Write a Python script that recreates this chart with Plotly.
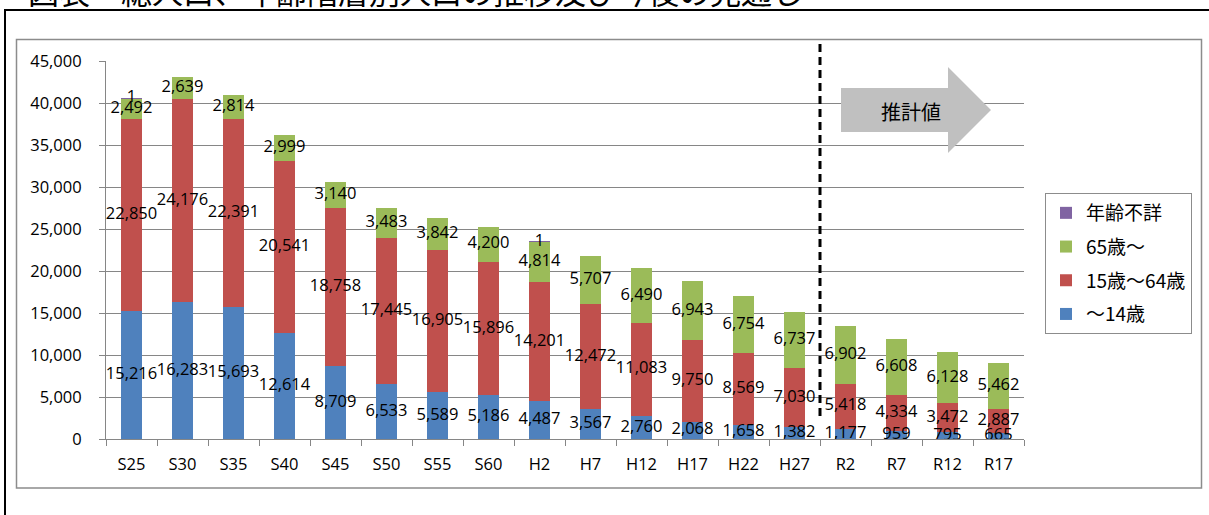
import numpy as np
import plotly.graph_objects as go

# 年次（昭和・平成・令和）
years = ["S25", "S30", "S35", "S40", "S45", "S50", "S55", "S60", "H2",
         "H7", "H12", "H17", "H22", "H27", "R2", "R7", "R12", "R17"]

# 年齢階層別人口（人）
age_0_14 = [15216, 16283, 15693, 12614, 8709, 6533, 5589, 5186, 4487,
            3567, 2760, 2068, 1658, 1382, 1177, 959, 795, 665]
age_15_64 = [22850, 24176, 22391, 20541, 18758, 17445, 16905, 15896, 14201,
             12472, 11083, 9750, 8569, 7030, 5418, 4334, 3472, 2887]
age_65_over = [2492, 2639, 2814, 2999, 3140, 3483, 3842, 4200, 4814,
               5707, 6490, 6943, 6754, 6737, 6902, 6608, 6128, 5462]
age_unknown = [1, 0, 0, 0, 0, 0, 0, 0, 1, 0, 0, 0, 0, 0, 0, 0, 0, 0]

# (name, values, colour, legend rank)
series = [
    ("～14歳", age_0_14, "#4F81BD", 4),
    ("15歳～64歳", age_15_64, "#C0504D", 3),
    ("65歳～", age_65_over, "#9BBB59", 2),
    ("年齢不詳", age_unknown, "#8064A2", 1),
]

W, H = 1209, 515
L, R, T, B = 106, 1024, 61, 439   # plot area in pixels

def px_x(x):
    return (x - L) / (R - L)

def px_y(y):
    return (B - y) / (B - T)

NUM_FONT = dict(family="Open Sans, Liberation Sans, sans-serif", size=16.5, color="#000000")
JP_FONT = "Noto Sans CJK JP, sans-serif"

fig = go.Figure()

base = np.zeros(len(years))
label_traces = []
for name, vals, color, rank in series:
    v = np.array(vals, dtype=float)
    fig.add_trace(go.Bar(
        x=years, y=v, name=name, marker=dict(color=color, line=dict(width=0)),
        legendgroup=name, legendrank=rank, hoverinfo="name+y",
    ))
    mids = base + v / 2
    texts = [f"{int(val):,}" if val > 0 else "" for val in v]
    label_traces.append(go.Scatter(
        x=years, y=mids, mode="text", text=texts, textposition="middle center",
        textfont=NUM_FONT, showlegend=False, hoverinfo="skip",
    ))
    base = base + v

for tr in label_traces:
    fig.add_trace(tr)

shapes = [
    # outer frame
    dict(type="rect", xref="paper", yref="paper",
         x0=px_x(5), x1=px_x(1230), y0=px_y(10), y1=px_y(540),
         line=dict(color="#000000", width=2), fillcolor="rgba(0,0,0,0)", layer="below"),
    # chart area frame
    dict(type="rect", xref="paper", yref="paper",
         x0=px_x(16.5), x1=px_x(1201.5), y0=px_y(39.5), y1=px_y(488),
         line=dict(color="#8C8C8C", width=1.5), fillcolor="rgba(0,0,0,0)", layer="below"),
    # boundary between actual and projected values
    dict(type="line", xref="x", yref="paper", x0=13.5, x1=13.5,
         y0=px_y(416), y1=px_y(39),
         line=dict(color="#000000", width=3, dash="8px,5px")),
]

# projection arrow
ax = [841, 948, 948, 991, 948, 948, 841]
ay = [88, 88, 67, 110, 153, 132, 132]
path = "M " + " L ".join(f"{px_x(a):.5f},{px_y(b):.5f}" for a, b in zip(ax, ay)) + " Z"
shapes.append(dict(type="path", xref="paper", yref="paper", path=path,
                   fillcolor="#C0C0C0", line=dict(width=0), layer="above"))

annotations = [
    dict(text="推計値", xref="paper", yref="paper", x=px_x(911), y=px_y(112),
         showarrow=False, font=dict(family=JP_FONT, size=20, color="#000000"),
         xanchor="center", yanchor="middle"),
    dict(text="図表　総人口、年齢階層別人口の推移及び今後の見通し", xref="paper", yref="paper",
         x=px_x(26), y=px_y(15), showarrow=False, xanchor="left", yanchor="bottom",
         font=dict(family=JP_FONT, size=31, color="#000000")),
]

fig.update_layout(
    width=W, height=H,
    margin=dict(l=L, r=W - R, t=T, b=H - B, pad=0),
    barmode="stack", bargap=0.6,
    plot_bgcolor="#FFFFFF", paper_bgcolor="#FFFFFF",
    shapes=shapes, annotations=annotations,
    showlegend=True,
    legend=dict(
        x=px_x(1045), y=px_y(193), xanchor="left", yanchor="top",
        traceorder="grouped", tracegroupgap=6,
        bordercolor="#8C8C8C", borderwidth=1, bgcolor="#FFFFFF",
        font=dict(family=JP_FONT, size=19, color="#000000"),
        itemwidth=30,
    ),
    xaxis=dict(
        type="category", range=[-0.5, len(years) - 0.5],
        showline=True, linecolor="#868686", linewidth=1,
        ticks="outside", tickson="boundaries", ticklen=6, tickcolor="#868686",
        showgrid=False, tickfont=NUM_FONT, ticklabelstandoff=10,
    ),
    yaxis=dict(
        range=[0, 45000], dtick=5000, tickformat=",", showline=True,
        linecolor="#868686", linewidth=1, ticks="outside", ticklen=6,
        tickcolor="#868686", showgrid=True, gridcolor="#868686", gridwidth=1,
        zeroline=False, tickfont=NUM_FONT, ticklabelstandoff=14,
    ),
)

fig.write_html("out.html")
